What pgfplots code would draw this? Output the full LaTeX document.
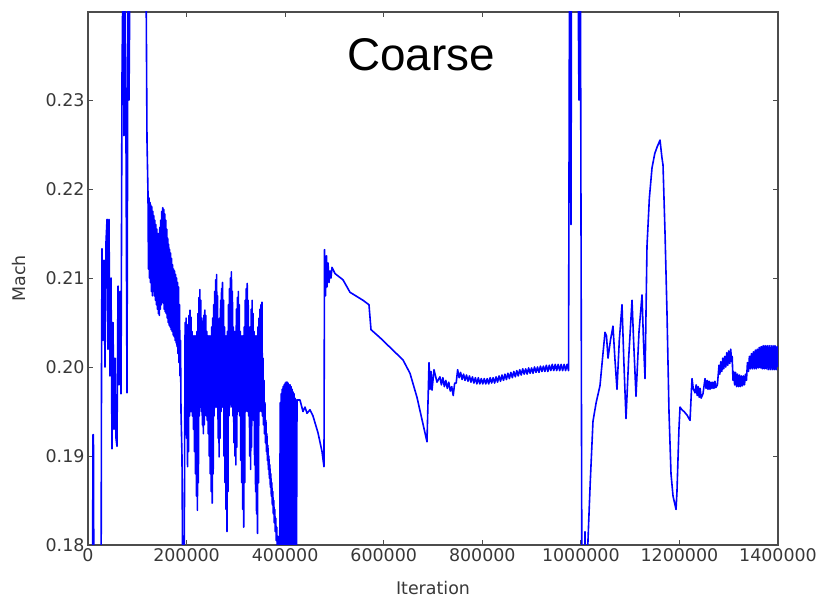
\documentclass[border=0pt]{standalone}
\usepackage{pgfplots}
\pgfplotsset{compat=1.18}
\usepackage{fontspec}
\setmainfont{DejaVu Sans}
\newfontfamily\titlefont{Liberation Sans}
\begin{document}
\begin{tikzpicture}
\begin{axis}[
  name=ax,
  scale only axis,
  width=690bp, height=533bp,
  xmin=0, xmax=1400000,
  ymin=0.18, ymax=0.2399,
  xtick={0,200000,400000,600000,800000,1000000,1200000,1400000},
  xticklabels={0,200000,400000,600000,800000,1000000,1200000,1400000},
  ytick={0.18,0.19,0.20,0.21,0.22,0.23},
  yticklabels={0.18,0.19,0.20,0.21,0.22,0.23},
  scaled x ticks=false, scaled y ticks=false,
  tick align=inside,
  major tick length=5bp,
  minor tick num=0,
  axis line style={black!70, line width=1.2bp},
  tick style={black!70, line width=0.8bp},
  ticklabel style={font=\fontsize{17.5}{20}\selectfont, text=black!78},
  label style={font=\fontsize{17.5}{20}\selectfont, text=black!78},
  xlabel={Iteration},
  ylabel={Mach},
  xlabel style={at={(axis description cs:0.5,-0.092)}, anchor=base},
  ylabel style={at={(axis description cs:-0.0899,0.5)}, anchor=base, rotate=0},
  clip=true,
]
\addplot[color=blue, line width=1.6bp, line join=round, mark=none] coordinates {
(0,0.170)(9000,0.170)(10100,0.1924)(11000,0.1924)(12200,0.170)(26400,0.170)
(27400,0.1991)(28400,0.2133)(30400,0.2030)(32500,0.2120)(34500,0.2000)(36500,0.2140)
(38600,0.2166)(40600,0.2020)(42600,0.2166)(44600,0.1990)(46700,0.2100)(48700,0.1908)
(50700,0.2050)(52800,0.1930)(54800,0.2010)(56800,0.1920)(58800,0.1911)(60900,0.2091)
(62900,0.1980)(64900,0.2085)(67000,0.1970)(69000,0.2326)(71000,0.2450)(73000,0.2260)
(75100,0.2450)(77100,0.2255)(79100,0.1971)(81200,0.2450)(83200,0.2300)(85200,0.2450)
(117700,0.2450)(119700,0.2255)
(121700,0.2196)(122700,0.2110)(123700,0.2190)(124700,0.2100)(125700,0.2185)(126700,0.2095)
(127700,0.2182)(128700,0.2085)(129700,0.2180)(130700,0.2080)(131700,0.2175)(132700,0.2085)
(133700,0.2170)(134700,0.2080)(135700,0.2165)(136700,0.2075)(137700,0.2160)(138700,0.2070)
(139700,0.2155)(140700,0.2065)(141700,0.2150)(142700,0.2060)(143700,0.2150)(144700,0.2058)
(145700,0.2157)(146700,0.2065)(147700,0.2165)(148700,0.2070)(149700,0.2175)(150700,0.2075)
(151700,0.2179)(152700,0.2072)(153700,0.2177)(154700,0.2065)(155700,0.2172)(156700,0.2062)
(157700,0.2165)(158700,0.2060)(159700,0.2155)(160700,0.2055)(161700,0.2145)(162700,0.2050)
(163700,0.2138)(164700,0.2047)(165700,0.2132)(166700,0.2045)(167700,0.2128)(168700,0.2042)
(169700,0.2122)(170700,0.2040)(171700,0.2115)(172700,0.2036)(173700,0.2110)(174700,0.2034)
(175700,0.2108)(176700,0.2030)(177700,0.2104)(178700,0.2027)(179700,0.2100)(180700,0.2023)
(181700,0.2095)(182700,0.2015)(183700,0.2090)(184700,0.2005)(185700,0.2070)(186700,0.1990)
(187700,0.2030)(188700,0.1950)(190700,0.1900)(192800,0.1700)(194800,0.1700)
(197000,0.2050)(198000,0.1955)(199000,0.2055)(200000,0.1920)(201000,0.2045)(202000,0.1888)
(203000,0.2048)(204000,0.1905)(205000,0.2058)(206000,0.1945)(207000,0.2064)(208000,0.1950)
(209000,0.2056)(210000,0.1950)(211000,0.2040)(212000,0.1945)(213000,0.2035)(214000,0.1930)
(215000,0.2035)(216000,0.1905)(217000,0.2035)(218000,0.1880)(219000,0.2035)(220000,0.1855)
(221000,0.2040)(222000,0.1839)(223000,0.2060)(224000,0.1870)(225000,0.2078)(226000,0.1945)
(227000,0.2087)(228000,0.1955)(229000,0.2075)(230000,0.1950)(231000,0.2055)(232000,0.1935)
(233000,0.2045)(234000,0.1925)(235000,0.2058)(236000,0.1935)(237000,0.2064)(238000,0.1950)
(239000,0.2058)(240000,0.1945)(241000,0.2040)(242000,0.1940)(243000,0.2035)(244000,0.1925)
(245000,0.2035)(246000,0.1900)(247000,0.2035)(248000,0.1880)(249000,0.2035)(250000,0.1860)
(251000,0.2045)(252000,0.1847)(253000,0.2055)(254000,0.1880)(255000,0.2070)(256000,0.1945)
(257000,0.2085)(258000,0.1955)(259000,0.2098)(260000,0.1955)(261000,0.2104)(262000,0.1955)
(263000,0.2080)(264000,0.1920)(265000,0.2050)(266000,0.1899)(267000,0.2055)(268000,0.1920)
(269000,0.2075)(270000,0.1950)(271000,0.2088)(272000,0.1955)(273000,0.2095)(274000,0.1955)
(275000,0.2075)(276000,0.1900)(277000,0.2045)(278000,0.1870)(279000,0.2035)(280000,0.1840)
(281000,0.2035)(282000,0.1815)(283000,0.2040)(284000,0.1860)(285000,0.2070)(286000,0.1945)
(287000,0.2088)(288000,0.1955)(289000,0.2100)(290000,0.1960)(291000,0.2107)(292000,0.1955)
(293000,0.2085)(294000,0.1945)(295000,0.2045)(296000,0.1915)(297000,0.2040)(298000,0.1900)
(299000,0.2040)(300000,0.1890)(301000,0.2065)(302000,0.1910)(303000,0.2078)(304000,0.1955)
(305000,0.2085)(306000,0.1950)(307000,0.2070)(308000,0.1945)(309000,0.2040)(310000,0.1895)
(311000,0.2035)(312000,0.1870)(313000,0.2035)(314000,0.1840)(315000,0.2035)(316000,0.1820)
(317000,0.2045)(318000,0.1870)(319000,0.2075)(320000,0.1950)(321000,0.2088)(322000,0.1955)
(323000,0.2094)(324000,0.1950)(325000,0.2075)(326000,0.1945)(327000,0.2045)(328000,0.1900)
(329000,0.2045)(330000,0.1885)(331000,0.2065)(332000,0.1910)(333000,0.2075)(334000,0.1950)
(335000,0.2060)(336000,0.1940)(337000,0.2040)(338000,0.1890)(339000,0.2035)(340000,0.1860)
(341000,0.2035)(342000,0.1835)(343000,0.2035)(344000,0.1813)(345000,0.2045)(346000,0.1870)
(347000,0.2055)(348000,0.1950)(349000,0.2065)(350000,0.1955)(351000,0.2070)(352000,0.1950)
(353000,0.2073)(354000,0.1945)(355000,0.2010)(356000,0.1935)(357000,0.1985)(358000,0.1925)
(359000,0.1960)(360000,0.1915)(361000,0.1940)(362000,0.1905)(363000,0.1925)(364000,0.1895)
(365000,0.1912)(366000,0.1885)(367000,0.1900)(368000,0.1875)(369000,0.1890)(370000,0.1865)
(371000,0.1880)(372000,0.1855)(373000,0.1870)(374000,0.1845)(375000,0.1860)(376000,0.1835)
(377000,0.1850)(378000,0.1825)(379000,0.1840)(380000,0.1815)(381000,0.1830)(382000,0.1805)
(383000,0.1820)(384000,0.1795)(385000,0.1810)(386000,0.1785)(387000,0.1800)(388000,0.1775)
(389000,0.1790)(390000,0.1960)(391000,0.1780)(392000,0.1970)(393000,0.1780)(394000,0.1975)
(395000,0.1790)(396000,0.1978)(397000,0.1780)(398000,0.1980)(399000,0.1790)(400000,0.1982)
(401000,0.1780)(402000,0.1983)(403000,0.1790)(404000,0.1983)(405000,0.1780)(406000,0.1982)
(407000,0.1785)(408000,0.1980)(409000,0.1780)(410000,0.1980)(411000,0.1790)(412000,0.1978)
(413000,0.1785)(414000,0.1975)(415000,0.1780)(416000,0.1972)(417000,0.1790)(418000,0.1970)
(419000,0.1780)(420000,0.1965)(421000,0.1790)(422000,0.1963)(423000,0.1780)(424100,0.1963)
(430100,0.1963)(436200,0.1950)(440300,0.1955)(444400,0.1948)(450400,0.1952)(456500,0.1945)
(466700,0.1926)(474800,0.1905)(478800,0.1888)
(479900,0.2132)(481900,0.2080)(483900,0.2125)(484900,0.2090)(487000,0.2117)(489000,0.2095)
(491000,0.2108)(493000,0.2100)(495100,0.2112)(501200,0.2105)(517400,0.2098)(531600,0.2084)
(558000,0.2075)(570100,0.2070)(574200,0.2042)(592500,0.2033)(639100,0.2008)(653300,0.1993)
(667500,0.1966)(687800,0.1916)(691900,0.2005)(694000,0.1975)(696000,0.1995)(698000,0.1974)
(702000,0.1997)(708100,0.1983)
(714000,0.1989)(717000,0.1980)(720000,0.1988)(723000,0.1978)(726000,0.1985)(729000,0.1976)
(732000,0.1983)(735000,0.1973)(738000,0.1978)(741000,0.1968)(744000,0.1982)(747000,0.1982)
(750000,0.1997)(753000,0.1988)(756000,0.1994)(759000,0.1986)(762000,0.1992)(765000,0.1985)
(768000,0.1991)(771000,0.1984)(774000,0.1990)(777000,0.1983)(780000,0.1989)(783000,0.1982)
(786000,0.1988)(789000,0.1981)(792000,0.1988)(795000,0.1981)(798000,0.1987)(801000,0.1981)
(804000,0.1987)(807000,0.1981)(810000,0.1987)(813000,0.1981)(816000,0.1988)(819000,0.1982)
(822000,0.1988)(825000,0.1982)(828000,0.1989)(831000,0.1983)(834000,0.1990)(837000,0.1984)
(840000,0.1991)(843000,0.1985)(846000,0.1992)(849000,0.1986)(852000,0.1993)(855000,0.1987)
(858000,0.1994)(861000,0.1988)(864000,0.1995)(867000,0.1989)(870000,0.1996)(873000,0.1990)
(876000,0.1997)(879000,0.1991)(882000,0.1998)(885000,0.1992)(888000,0.1998)(891000,0.1992)
(894000,0.1999)(897000,0.1993)(900000,0.1999)(903000,0.1993)(906000,0.2000)(909000,0.1994)
(912000,0.2000)(915000,0.1994)(918000,0.2001)(921000,0.1995)(924000,0.2001)(927000,0.1995)
(930000,0.2002)(933000,0.1995)(936000,0.2002)(939000,0.1996)(942000,0.2003)(945000,0.1996)
(948000,0.2003)(951000,0.1996)(954000,0.2003)(957000,0.1996)(960000,0.2003)(963000,0.1996)
(966000,0.2003)(969000,0.1996)(972000,0.2003)(975000,0.1996)
(977000,0.2450)(979000,0.2450)(980000,0.2160)(981000,0.2450)(994200,0.2450)(996200,0.2300)
(997200,0.2450)(999300,0.2400)(1002300,0.1700)(1006400,0.1700)(1008400,0.1815)(1010400,0.1700)
(1012400,0.1760)(1014500,0.1806)(1019000,0.1870)(1024600,0.1939)(1031000,0.1960)(1038800,0.1979)
(1044000,0.2010)(1049000,0.2039)(1052000,0.2035)(1055100,0.2010)(1060000,0.2030)(1065200,0.2046)
(1069000,0.2010)(1073300,0.1975)(1078000,0.2030)(1083500,0.2070)(1087000,0.2010)(1091600,0.1942)
(1097000,0.2010)(1103800,0.2075)(1107000,0.2030)(1111900,0.1967)(1118000,0.2040)(1124100,0.2081)
(1127000,0.2030)(1130200,0.1987)(1134200,0.2136)(1139000,0.2190)(1144400,0.2224)(1150000,0.2240)
(1154500,0.2247)(1160600,0.2255)(1162600,0.2245)(1164600,0.2235)(1166700,0.2227)(1170800,0.2150)
(1174800,0.2060)(1178800,0.1950)(1182900,0.1880)(1187000,0.1855)(1193100,0.1840)(1195000,0.1860)
(1199000,0.1930)(1201200,0.1955)(1205000,0.1952)(1209300,0.1950)(1215400,0.1946)(1221500,0.1940)
(1225500,0.1987)(1228000,0.1976)(1231600,0.1971)(1234000,0.1980)(1236000,0.1968)(1238000,0.1978)
(1240000,0.1966)(1242000,0.1976)(1244000,0.1965)(1247800,0.1970)(1251900,0.1987)(1254000,0.1976)
(1256000,0.1985)(1258000,0.1975)(1260000,0.1984)(1262000,0.1975)(1264000,0.1983)(1266000,0.1976)
(1268000,0.1983)(1270000,0.1976)(1272000,0.1984)(1274000,0.1977)(1277000,0.1980)
(1280300,0.2002)(1282000,0.1992)(1284000,0.2006)(1286000,0.1995)(1288000,0.2010)(1290000,0.1998)
(1292000,0.2012)(1294000,0.2000)(1296000,0.2016)(1298000,0.2002)(1300000,0.2018)(1302000,0.2004)
(1304000,0.2020)(1306000,0.2006)(1307000,0.2012)(1308700,0.1985)(1310000,0.1995)(1312000,0.1980)
(1314000,0.1994)(1316000,0.1978)(1318000,0.1992)(1320000,0.1978)(1322000,0.1991)(1324000,0.1978)
(1326000,0.1990)(1328000,0.1979)(1330000,0.1990)(1332000,0.1980)(1334000,0.1992)(1336000,0.1985)
(1338000,0.2005)(1340000,0.1995)(1342000,0.2012)(1344000,0.1998)(1346000,0.2015)(1348000,0.1998)
(1350000,0.2017)(1352000,0.1998)(1354000,0.2019)(1356000,0.1998)(1358000,0.2020)(1360000,0.1999)
(1362000,0.2022)(1364000,0.1999)(1366000,0.2023)(1368000,0.1998)(1370000,0.2024)(1372000,0.1998)
(1374000,0.2024)(1376000,0.1998)(1378000,0.2024)(1380000,0.1997)(1382000,0.2024)(1384000,0.1997)
(1386000,0.2024)(1388000,0.1997)(1390000,0.2024)(1392000,0.1997)(1394000,0.2024)(1396000,0.1997)
(1398000,0.2023)(1400000,0.2000)
};
\node[anchor=base, font=\titlefont\fontsize{46}{50}\selectfont] at (rel axis cs:0.4826,0.891) {Coarse};
\end{axis}
\pgfresetboundingbox
\path[use as bounding box] ([shift={(-88bp,-60bp)}]ax.south west) rectangle ([shift={(49bp,12bp)}]ax.north east);
\end{tikzpicture}
\end{document}
